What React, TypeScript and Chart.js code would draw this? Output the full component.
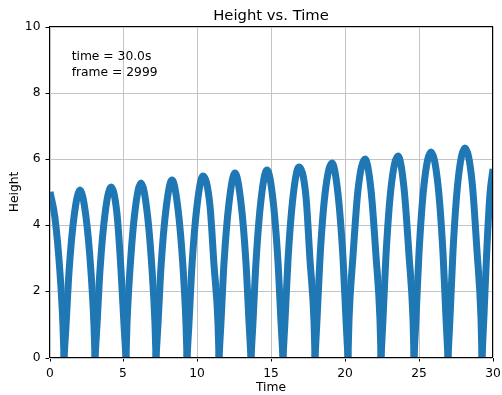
import React, { useEffect, useRef } from "react";
import { Chart, registerables } from "chart.js";

Chart.register(...registerables);

const TITLE = "Height vs. Time";
const X_LABEL = "Time";
const Y_LABEL = "Height";
const INFO_LINES = ["time = 30.0s", "frame = 2999"];
const X_TICKS = [0, 5, 10, 15, 20, 25, 30];
const Y_TICKS = [0, 2, 4, 6, 8, 10];

// Ball trajectory (time in s, height); a height of 0 marks a bounce.
const times = [
  0, 0.4, 0.7, 0.9, 1.0,
  1.105, 1.315, 1.635, 2.055, 2.475, 2.795, 3.005, 3.11,
  3.21, 3.42, 3.73, 4.14, 4.55, 4.86, 5.07, 5.17,
  5.27, 5.48, 5.79, 6.2, 6.62, 6.93, 7.14, 7.24,
  7.35, 7.56, 7.87, 8.29, 8.71, 9.03, 9.24, 9.34,
  9.45, 9.66, 9.99, 10.42, 10.85, 11.17, 11.38, 11.49,
  11.6, 11.81, 12.14, 12.57, 13.0, 13.32, 13.53, 13.64,
  13.75, 13.97, 14.29, 14.73, 15.16, 15.49, 15.7, 15.81,
  15.92, 16.14, 16.47, 16.91, 17.34, 17.67, 17.89, 18.0,
  18.11, 18.33, 18.66, 19.1, 19.54, 19.87, 20.09, 20.2,
  20.31, 20.54, 20.88, 21.34, 21.79, 22.13, 22.36, 22.47,
  22.58, 22.81, 23.14, 23.59, 24.04, 24.37, 24.6, 24.71,
  24.82, 25.05, 25.39, 25.84, 26.29, 26.63, 26.86, 26.97,
  27.09, 27.32, 27.67, 28.14, 28.6, 28.95, 29.19, 29.3,
  29.41, 29.63, 29.85, 30.0,
];
const heights = [
  5.0, 4.2, 2.55, 0.95, 0,
  0.96, 2.58, 4.25, 5.06, 4.25, 2.58, 0.96, 0,
  0.98, 2.63, 4.33, 5.16, 4.33, 2.63, 0.98, 0,
  1.0, 2.68, 4.42, 5.26, 4.42, 2.68, 1.0, 0,
  1.02, 2.73, 4.49, 5.35, 4.49, 2.73, 1.02, 0,
  1.04, 2.79, 4.59, 5.47, 4.59, 2.79, 1.04, 0,
  1.06, 2.84, 4.68, 5.57, 4.68, 2.84, 1.06, 0,
  1.08, 2.89, 4.75, 5.66, 4.75, 2.89, 1.08, 0,
  1.1, 2.94, 4.85, 5.77, 4.85, 2.94, 1.1, 0,
  1.12, 3.0, 4.94, 5.88, 4.94, 3.0, 1.12, 0,
  1.14, 3.07, 5.05, 6.01, 5.05, 3.07, 1.14, 0,
  1.16, 3.11, 5.12, 6.1, 5.12, 3.11, 1.16, 0,
  1.18, 3.16, 5.21, 6.2, 5.21, 3.16, 1.18, 0,
  1.2, 3.23, 5.32, 6.33, 5.32, 3.23, 1.2, 0,
  1.27, 3.38, 4.94, 5.69,
];

const LINE_COLOR = "#1f77b4";
const FONT = "'DejaVu Sans', 'Liberation Sans', sans-serif";

function splitArcs() {
  const arcs: { x: number; y: number }[][] = [];
  let cur: { x: number; y: number }[] = [];
  for (let i = 0; i < times.length; i++) {
    const p = { x: times[i], y: heights[i] };
    cur.push(p);
    if (heights[i] === 0 && cur.length > 1) {
      arcs.push(cur);
      cur = [p];
    }
  }
  if (cur.length > 1) arcs.push(cur);
  return arcs;
}

const overlayPlugin = {
  id: "overlay",
  afterDatasetsDraw(chart: any) {
    const { ctx, chartArea: a } = chart;
    ctx.save();
    ctx.strokeStyle = "#000";
    ctx.lineWidth = 1;
    ctx.strokeRect(a.left, a.top, a.right - a.left, a.bottom - a.top);
    ctx.restore();
  },
  afterDraw(chart: any) {
    const { ctx, chartArea: a } = chart;
    const w = a.right - a.left;
    const h = a.bottom - a.top;
    ctx.save();
    ctx.fillStyle = "#000";
    ctx.textBaseline = "alphabetic";
    ctx.textAlign = "center";
    ctx.font = `14.8px ${FONT}`;
    ctx.fillText(TITLE, (a.left + a.right) / 2, 19.5);
    ctx.textAlign = "left";
    ctx.font = `12.3px ${FONT}`;
    const fracs = [0.9, 0.85];
    INFO_LINES.forEach((t, i) => {
      ctx.fillText(t, a.left + 0.05 * w, a.bottom - fracs[i] * h);
    });
    ctx.restore();
  },
};

export default function App() {
  const ref = useRef<HTMLCanvasElement | null>(null);

  useEffect(() => {
    document.body.style.margin = "0";
    const canvas = ref.current;
    if (!canvas) return;
    const arcs = splitArcs();
    const chart = new Chart(canvas, {
      type: "line",
      data: {
        datasets: arcs.map((pts) => ({
          data: pts,
          borderColor: LINE_COLOR,
          backgroundColor: LINE_COLOR,
          borderWidth: 7,
          pointRadius: 0,
          fill: false,
          cubicInterpolationMode: "monotone" as const,
          clip: 0,
        })),
      },
      options: {
        animation: false,
        responsive: false,
        devicePixelRatio: 1,
        layout: { padding: { top: 26.5, right: 9.5, left: 0, bottom: 0 } },
        plugins: {
          legend: { display: false },
          tooltip: { enabled: false },
          title: { display: false },
        },
        scales: {
          x: {
            type: "linear",
            min: X_TICKS[0],
            max: X_TICKS[X_TICKS.length - 1],
            alignToPixels: true,
            afterBuildTicks: (s: any) => {
              s.ticks = X_TICKS.map((v) => ({ value: v }));
            },
            afterFit: (s: any) => {
              s.height = 37.5;
              s.paddingLeft = 0;
              s.paddingRight = 0;
            },
            ticks: {
              color: "#000",
              padding: 5,
              maxRotation: 0,
              font: { family: FONT, size: 12.3 },
            },
            grid: {
              color: "#c4c4c4",
              lineWidth: 1,
              tickColor: "#000",
              tickLength: 4,
              drawTicks: true,
            },
            border: { display: true, color: "#000", width: 1 },
            title: {
              display: true,
              text: X_LABEL,
              color: "#000",
              font: { family: FONT, size: 12.3, lineHeight: 1.2 },
              padding: { top: 0, bottom: 0 },
            },
          },
          y: {
            type: "linear",
            min: Y_TICKS[0],
            max: Y_TICKS[Y_TICKS.length - 1],
            alignToPixels: true,
            afterBuildTicks: (s: any) => {
              s.ticks = Y_TICKS.map((v) => ({ value: v }));
            },
            afterFit: (s: any) => {
              s.width = 49.5;
              s.paddingTop = 0;
              s.paddingBottom = 0;
            },
            ticks: {
              color: "#000",
              padding: 5,
              font: { family: FONT, size: 12.3 },
            },
            grid: {
              color: "#c4c4c4",
              lineWidth: 1,
              tickColor: "#000",
              tickLength: 4,
              drawTicks: true,
            },
            border: { display: true, color: "#000", width: 1 },
            title: {
              display: true,
              text: Y_LABEL,
              color: "#000",
              font: { family: FONT, size: 12.3, lineHeight: 1.2 },
              padding: { top: 7.6, bottom: 0 },
            },
          },
        },
      },
      plugins: [overlayPlugin],
    });
    return () => chart.destroy();
  }, []);

  return (
    <div style={{ width: 502, height: 395 }}>
      <canvas ref={ref} width={502} height={395} style={{ display: "block" }} />
    </div>
  );
}
